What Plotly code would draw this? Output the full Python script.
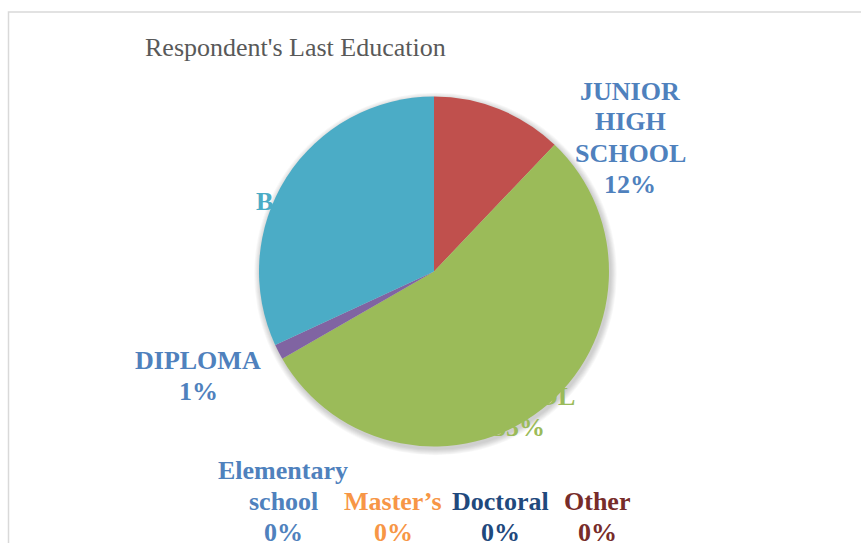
import plotly.graph_objects as go

# ---- data ----
categories = ["Elementary school", "JUNIOR HIGH SCHOOL", "SENIOR HIGH SCHOOL", "DIPLOMA",
              "BACHELOR", "Master’s", "Doctoral", "Other"]
values = [0, 12.1, 54.6, 1.4, 31.9, 0, 0, 0]
slice_colors = ["#4F81BD", "#C0504D", "#9BBB59", "#8064A2", "#4BACC6", "#F79646", "#1F497D", "#772C2A"]
label_colors = ["#4F81BD", "#4F81BD", "#9BBB59", "#4F81BD", "#4BACC6", "#F79646", "#1F497D", "#772C2A"]
title_text = "Respondent's Last Education"

# ---- layout constants (pixels) ----
W, H = 861, 543
CX, CY, R = 434, 271.5, 175
LINE = 31
FONT = "Liberation Serif, Times New Roman, serif"
# label anchor: (center x, first-line center y, line breaks)
label_pos = [
    (283, 470, ["Elementary", "school"]),
    (630, 91, ["JUNIOR", "HIGH", "SCHOOL"]),
    (519, 334, ["SENIOR", "HIGH", "SCHOOL"]),
    (198, 360, ["DIPLOMA"]),
    (330, 201, ["BACHELOR"]),
    (393, 501, ["Master’s"]),
    (500, 501, ["Doctoral"]),
    (597, 501, ["Other"]),
]


def dom(cx, cy, r):
    return dict(x=[(cx - r) / W, (cx + r) / W], y=[(H - cy - r) / H, (H - cy + r) / H])


fig = go.Figure()

# soft shadow layers
for k in range(7):
    fig.add_trace(go.Pie(
        values=[1], labels=["shadow"], sort=False, textinfo="none", hoverinfo="skip",
        marker=dict(colors=["rgba(0,0,0,0.028)"], line=dict(width=0)),
        domain=dom(CX + 1.5, CY + 2.5, R + 0.9 * (k + 1)), showlegend=False,
    ))

fig.add_trace(go.Pie(
    labels=categories, values=values, sort=False, direction="clockwise", rotation=0,
    textinfo="none", hoverinfo="label+percent",
    marker=dict(colors=slice_colors, line=dict(width=0)),
    domain=dom(CX, CY, R), showlegend=False,
))

annotations = [dict(
    text=title_text, x=143 / W, y=1 - 47 / H, xref="paper", yref="paper",
    xanchor="left", yanchor="middle", showarrow=False,
    font=dict(family=FONT, size=26, color="#595959"),
)]

total = sum(values)
for (cx, y0, lines), v, col in zip(label_pos, values, label_colors):
    all_lines = lines + [f"{round(100 * v / total)}%"]
    for i, t in enumerate(all_lines):
        annotations.append(dict(
            text=f"<b>{t}</b>", x=cx / W, y=1 - (y0 + i * LINE) / H,
            xref="paper", yref="paper", xanchor="center", yanchor="middle",
            showarrow=False, font=dict(family=FONT, size=26, color=col),
        ))

shapes = [dict(
    type="rect", xref="paper", yref="paper",
    x0=8.5 / W, x1=1.05, y0=-0.05, y1=1 - 12 / H,
    line=dict(color="#D9D9D9", width=1.5), fillcolor="rgba(0,0,0,0)", layer="below",
)]

fig.update_layout(
    width=W, height=H, margin=dict(l=0, r=0, t=0, b=0),
    paper_bgcolor="white", plot_bgcolor="white",
    annotations=annotations, shapes=shapes, showlegend=False,
)

fig.write_html("out.html", config={"displayModeBar": False},
               post_script="document.body.style.margin='0';document.body.style.overflow='hidden';")
